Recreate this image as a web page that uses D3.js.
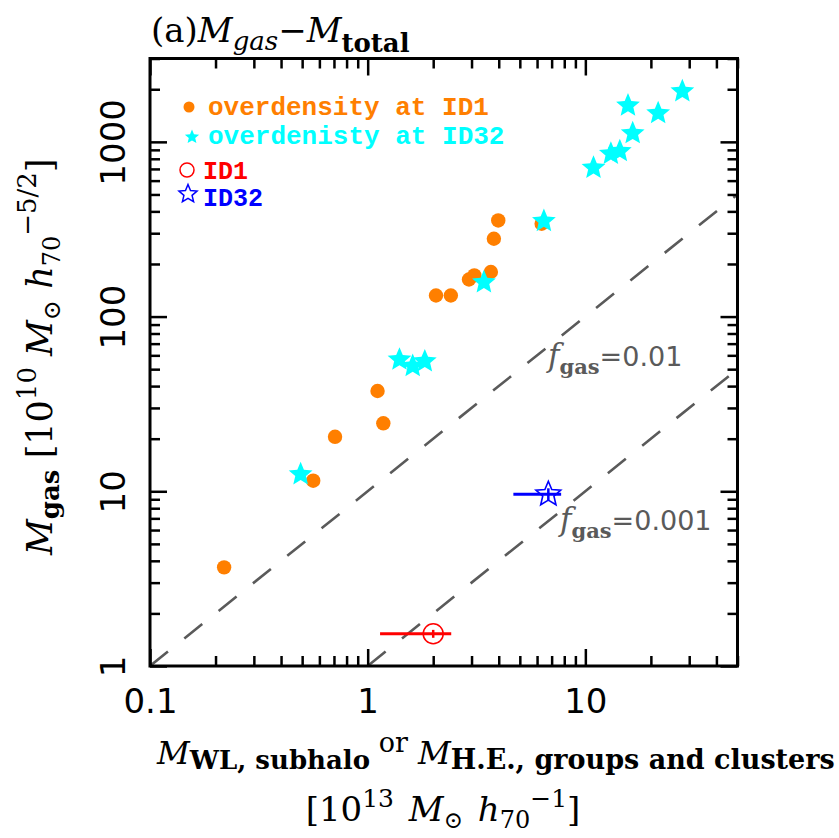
<!DOCTYPE html>
<html>
<head>
<meta charset="utf-8">
<script src="https://cdn.jsdelivr.net/npm/d3@7"></script>
<style>
  html, body { margin: 0; padding: 0; background: #fff; }
  svg { display: block; }
</style>
</head>
<body>
<svg id="chart" width="839" height="838"></svg>
<script>
// Gas mass vs total mass (weak-lensing subhalo / hydrostatic group & cluster masses)
// Total mass in 10^13 Msun h70^-1, gas mass in 10^10 Msun h70^-5/2

// overdensity at ID1
const id1RegionMtot = [0.219, 0.562, 0.708, 1.11, 1.18, 2.06, 2.41, 2.92, 3.09, 3.68, 3.80, 3.98, 6.3];
const id1RegionMgas = [3.67, 11.5, 20.5, 37.5, 24.5, 132, 132, 163, 172, 180, 279, 355, 340];

// overdensity at ID32
const id32RegionMtot = [0.492, 1.40, 1.61, 1.83, 3.42, 6.45, 10.9, 13.1, 14.4, 16.5, 15.7, 21.6, 27.9];
const id32RegionMgas = [12.5, 56.7, 52.1, 55.4, 157, 352, 710, 854, 884, 1120, 1613, 1458, 1946];

// individual sources with error bars: [value, low, high]
const id1Mtot = [2.0, 1.14, 2.42];
const id1Mgas = [1.53, 1.45, 1.61];
const id32Mtot = [6.76, 4.67, 7.74];
const id32Mgas = [9.62, 8.9, 10.4];

// constant gas-fraction reference lines
const gasFractions = [0.01, 0.001];
const gasFractionLabels = ["=0.01", "=0.001"];

// axes
const xDomain = [0.1, 50];
const yDomain = [1, 3000];
const xMajorTicks = [0.1, 1, 10];
const xTickLabels = ["0.1", "1", "10"];
const yMajorTicks = [1, 10, 100, 1000];
const yTickLabels = ["1", "10", "100", "1000"];

const SERIF = "'DejaVu Serif', 'Liberation Serif', serif";
const SANS = "'DejaVu Sans', 'Liberation Sans', sans-serif";
const MONO = "'Liberation Mono', 'DejaVu Sans Mono', monospace";

const C_ORANGE = "#ff7f00";
const C_CYAN = "#00ffff";
const C_RED = "#ff0000";
const C_BLUE = "#0000ff";
const C_GRAY = "#5a5a5a";

const plot = { left: 150, right: 737.5, top: 58.5, bottom: 666 };

const svg = d3.select("#chart");

const x = d3.scaleLog().domain(xDomain).range([plot.left, plot.right]);
const y = d3.scaleLog().domain(yDomain).range([plot.bottom, plot.top]);

// five-pointed star with a fairly wide body
const fatStar = {
  draw(ctx, size) {
    const R = Math.sqrt(size);
    const r = R * 0.45;
    for (let i = 0; i < 10; i++) {
      const a = -Math.PI / 2 + i * Math.PI / 5;
      const rad = i % 2 === 0 ? R : r;
      const px = rad * Math.cos(a), py = rad * Math.sin(a);
      if (i === 0) ctx.moveTo(px, py); else ctx.lineTo(px, py);
    }
    ctx.closePath();
  }
};
const starPath = R => d3.symbol().type(fatStar).size(R * R)();

// mixed-style text built from tspans; off = baseline offset in px (positive = down)
function richText(parent, x0, y0, parts, anchor, transform) {
  const t = parent.append("text")
    .attr("x", x0).attr("y", y0)
    .attr("text-anchor", anchor || "start");
  if (transform) t.attr("transform", transform);
  let cur = 0;
  parts.forEach(p => {
    const off = p.off || 0;
    const ts = t.append("tspan").text(p.t)
      .attr("dy", off - cur)
      .style("font-size", p.size + "px")
      .style("font-family", p.family || SERIF)
      .style("font-style", p.italic ? "italic" : "normal")
      .style("font-weight", p.bold ? "bold" : "normal");
    if (p.dx) ts.attr("dx", p.dx);
    cur = off;
  });
  return t;
}

// clip region for reference lines
svg.append("defs").append("clipPath").attr("id", "plotClip")
  .append("rect")
  .attr("x", plot.left).attr("y", plot.top)
  .attr("width", plot.right - plot.left).attr("height", plot.bottom - plot.top);

// ---- gas-fraction lines: Mgas[1e10] = f * 1000 * Mtot[1e13]
const line = d3.line().x(d => x(d[0])).y(d => y(d[1]));
const fLines = svg.append("g").attr("clip-path", "url(#plotClip)");
gasFractions.forEach(f => {
  const k = f * 1000;
  const m0 = Math.max(xDomain[0], yDomain[0] / k);
  const m1 = Math.min(xDomain[1], yDomain[1] / k);
  fLines.append("path")
    .attr("d", line([[m0, m0 * k], [m1, m1 * k]]))
    .attr("fill", "none")
    .attr("stroke", C_GRAY)
    .attr("stroke-width", 2.6)
    .attr("stroke-dasharray", "23,21");
});

// gas-fraction labels
const fLabelPos = [[548, 366], [560, 530]];
gasFractions.forEach((f, i) => {
  const t = richText(svg, fLabelPos[i][0], fLabelPos[i][1], [
    { t: "f", size: 31, italic: true },
    { t: "gas", size: 21, bold: true, off: 8 },
    { t: gasFractionLabels[i], size: 27, family: SANS, off: 0 }
  ]);
  t.attr("fill", C_GRAY);
});

// ---- data
const pts = svg.append("g");

pts.selectAll("circle.id1reg")
  .data(d3.zip(id1RegionMtot, id1RegionMgas))
  .join("circle")
  .attr("class", "id1reg")
  .attr("cx", d => x(d[0])).attr("cy", d => y(d[1]))
  .attr("r", 7.2)
  .attr("fill", C_ORANGE);

pts.selectAll("path.id32reg")
  .data(d3.zip(id32RegionMtot, id32RegionMgas))
  .join("path")
  .attr("class", "id32reg")
  .attr("transform", d => `translate(${x(d[0])},${y(d[1])})`)
  .attr("d", starPath(12.5))
  .attr("fill", C_CYAN);

// ID1 with error bars
const g1 = pts.append("g");
g1.append("line")
  .attr("x1", x(id1Mtot[1])).attr("x2", x(id1Mtot[2]))
  .attr("y1", y(id1Mgas[0])).attr("y2", y(id1Mgas[0]))
  .attr("stroke", C_RED).attr("stroke-width", 3);
g1.append("line")
  .attr("x1", x(id1Mtot[0])).attr("x2", x(id1Mtot[0]))
  .attr("y1", y(id1Mgas[1])).attr("y2", y(id1Mgas[2]))
  .attr("stroke", C_RED).attr("stroke-width", 2.5);
g1.append("circle")
  .attr("cx", x(id1Mtot[0])).attr("cy", y(id1Mgas[0]))
  .attr("r", 10).attr("fill", "none")
  .attr("stroke", C_RED).attr("stroke-width", 1.5);

// ID32 with error bars
const g32 = pts.append("g");
g32.append("line")
  .attr("x1", x(id32Mtot[1])).attr("x2", x(id32Mtot[2]))
  .attr("y1", y(id32Mgas[0])).attr("y2", y(id32Mgas[0]))
  .attr("stroke", C_BLUE).attr("stroke-width", 3);
g32.append("line")
  .attr("x1", x(id32Mtot[0])).attr("x2", x(id32Mtot[0]))
  .attr("y1", y(id32Mgas[1])).attr("y2", y(id32Mgas[2]))
  .attr("stroke", C_BLUE).attr("stroke-width", 2.5);
g32.append("path")
  .attr("transform", `translate(${x(id32Mtot[0])},${y(id32Mgas[0])})`)
  .attr("d", starPath(13))
  .attr("fill", "none")
  .attr("stroke", C_BLUE).attr("stroke-width", 1.6);

// ---- axes (ticks inside, on all four sides)
const xMinor = x.ticks().filter(v => !xMajorTicks.some(m => Math.abs(m - v) < 1e-9));
const yMinor = y.ticks().filter(v => !yMajorTicks.some(m => Math.abs(m - v) < 1e-9));

function styleAxis(g) {
  g.select(".domain").remove();
  g.selectAll(".tick line").attr("stroke", "#000").attr("stroke-width", 2.5);
  g.attr("font-family", SANS).attr("font-size", 34);
  g.selectAll(".tick text").attr("fill", "#000");
}

// bottom
svg.append("g").attr("transform", `translate(0,${plot.bottom})`)
  .call(d3.axisBottom(x).tickValues(xMajorTicks).tickSize(-17)
    .tickFormat((d, i) => xTickLabels[i]))
  .call(styleAxis)
  .call(g => g.selectAll(".tick text").attr("y", 47).attr("dy", 0));
svg.append("g").attr("transform", `translate(0,${plot.bottom})`)
  .call(d3.axisBottom(x).tickValues(xMinor).tickSize(-10).tickFormat(""))
  .call(styleAxis);
// top
svg.append("g").attr("transform", `translate(0,${plot.top})`)
  .call(d3.axisTop(x).tickValues(xMajorTicks).tickSize(-17).tickFormat(""))
  .call(styleAxis);
svg.append("g").attr("transform", `translate(0,${plot.top})`)
  .call(d3.axisTop(x).tickValues(xMinor).tickSize(-10).tickFormat(""))
  .call(styleAxis);
// left
svg.append("g").attr("transform", `translate(${plot.left},0)`)
  .call(d3.axisLeft(y).tickValues(yMajorTicks).tickSize(-17)
    .tickFormat((d, i) => yTickLabels[i]))
  .call(styleAxis)
  .call(g => g.selectAll(".tick text")
    .attr("x", null).attr("dy", 0)
    .attr("text-anchor", "middle")
    .attr("transform", "translate(-25,0) rotate(-90)"));
svg.append("g").attr("transform", `translate(${plot.left},0)`)
  .call(d3.axisLeft(y).tickValues(yMinor).tickSize(-10).tickFormat(""))
  .call(styleAxis);
// right
svg.append("g").attr("transform", `translate(${plot.right},0)`)
  .call(d3.axisRight(y).tickValues(yMajorTicks).tickSize(-17).tickFormat(""))
  .call(styleAxis);
svg.append("g").attr("transform", `translate(${plot.right},0)`)
  .call(d3.axisRight(y).tickValues(yMinor).tickSize(-10).tickFormat(""))
  .call(styleAxis);

// frame
svg.append("rect")
  .attr("x", plot.left).attr("y", plot.top)
  .attr("width", plot.right - plot.left).attr("height", plot.bottom - plot.top)
  .attr("fill", "none").attr("stroke", "#000").attr("stroke-width", 3);

// ---- legend
const leg = svg.append("g");
leg.append("circle").attr("cx", 189).attr("cy", 107).attr("r", 5.5).attr("fill", C_ORANGE);
leg.append("path").attr("transform", "translate(192,137)").attr("d", starPath(7.5)).attr("fill", C_CYAN);
leg.append("circle").attr("cx", 187).attr("cy", 170).attr("r", 7)
  .attr("fill", "none").attr("stroke", C_RED).attr("stroke-width", 1.5);
leg.append("path").attr("transform", "translate(188,194)").attr("d", starPath(9.5))
  .attr("fill", "none").attr("stroke", C_BLUE).attr("stroke-width", 1.5);

const legendItems = [
  { t: "overdensity at ID1", c: C_ORANGE, x: 208, y: 115, s: 26 },
  { t: "overdenisty at ID32", c: C_CYAN, x: 208, y: 144, s: 26 },
  { t: "ID1", c: C_RED, x: 203, y: 179, s: 25 },
  { t: "ID32", c: C_BLUE, x: 203, y: 206, s: 25 }
];
leg.selectAll("text.leg").data(legendItems).join("text")
  .attr("class", "leg")
  .attr("x", d => d.x).attr("y", d => d.y)
  .attr("fill", d => d.c)
  .style("font-family", MONO).style("font-weight", "bold")
  .style("font-size", d => d.s + "px")
  .text(d => d.t);

// ---- title
richText(svg, 151, 42, [
  { t: "(a)", size: 34 },
  { t: "M", size: 34, italic: true },
  { t: "gas", size: 26, italic: true, off: 8 },
  { t: "\u2212", size: 34, off: 0 },
  { t: "M", size: 34, italic: true },
  { t: "total", size: 26, bold: true, off: 10 }
]).attr("fill", "#000");

// ---- x-axis title
richText(svg, 157, 764, [
  { t: "M", size: 32, italic: true },
  { t: "WL, subhalo", size: 26, bold: true, off: 5 },
  { t: " or", size: 27, off: -12 },
  { t: " M", size: 32, italic: true, off: 0 },
  { t: "H.E., groups and clusters", size: 27, bold: true, off: 5 }
]);
richText(svg, 443, 821, [
  { t: "[10", size: 34 },
  { t: "13", size: 25, off: -14 },
  { t: " M", size: 34, italic: true, off: 0, dx: 4 },
  { t: "\u2299", size: 23, off: 7 },
  { t: " h", size: 34, italic: true, off: 0, dx: 4 },
  { t: "70", size: 24, off: 7 },
  { t: "\u22121", size: 25, off: -14 },
  { t: "]", size: 34, off: 0 }
], "middle");

// ---- y-axis title
richText(svg, 0, 0, [
  { t: "M", size: 35, italic: true },
  { t: "gas", size: 26, bold: true, off: 7 },
  { t: "  [10", size: 35, off: 0 },
  { t: "10", size: 26, off: -16 },
  { t: " M", size: 35, italic: true, off: 0 },
  { t: "\u2299", size: 24, off: 8 },
  { t: " h", size: 35, italic: true, off: 0 },
  { t: "70", size: 24, off: 8 },
  { t: "\u22125/2", size: 26, off: -16 },
  { t: "]", size: 35, off: 0 }
], "start", "translate(52,555) rotate(-90)");
</script>
</body>
</html>
